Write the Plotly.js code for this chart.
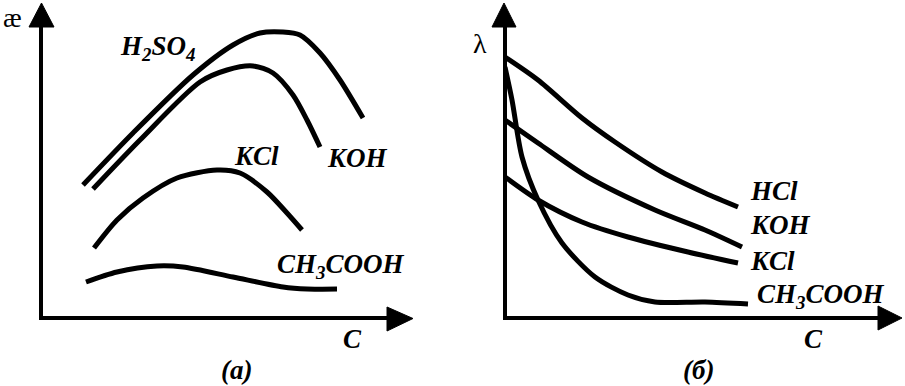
<!DOCTYPE html>
<html><head><meta charset="utf-8">
<script src="https://cdn.plot.ly/plotly-3.0.1.min.js"></script>
<style>html,body{margin:0;padding:0;background:#fff}#chart{width:905px;height:386px}</style>
</head><body><div id="chart"></div>
<script>
// Panel (a): conductivity æ vs concentration C (schematic units)
const a_H2SO4_x = [42, 92, 152, 192, 219, 242, 259, 279, 299, 322];
const a_H2SO4_y = [133, 185, 243, 273, 285, 286, 283, 265, 238, 200];
const a_KOH_x = [52, 99, 159, 186, 212, 232, 252, 266, 279];
const a_KOH_y = [129, 178, 236, 248, 252, 245, 223, 198, 171];
const a_KCl_x = [53, 76, 102, 136, 176, 199, 226, 246, 261];
const a_KCl_y = [70, 98, 120, 140, 148, 145, 126, 105, 88];
const a_CH3COOH_x = [45, 76, 116, 142, 192, 242, 266, 296];
const a_CH3COOH_y = [36, 46, 52, 51, 41, 31, 29, 29];
// Panel (б): equivalent conductivity λ vs C
const b_HCl_x = [0, 33, 77, 110, 157, 200, 233];
const b_HCl_y = [261, 238, 200, 176, 146, 125, 111];
const b_KOH_x = [0, 33, 83, 150, 200, 237];
const b_KOH_y = [198, 175, 141, 108, 88, 71];
const b_KCl_x = [0, 33, 77, 123, 183, 233];
const b_KCl_y = [141, 118, 96, 81, 66, 55];
const b_CH3COOH_x = [0, 7, 17, 33, 57, 90, 123, 150, 200, 243];
const b_CH3COOH_y = [251, 218, 161, 118, 75, 41, 23, 16, 16, 14];

const W = 905, H = 386;
const px = v => v / W, py = v => 1 - v / H;

function curve(x, y, xa, ya) {
  return {x, y, xaxis: xa, yaxis: ya, type: 'scatter', mode: 'lines',
    line: {color: '#000', width: 5, shape: 'spline', smoothing: 0.8},
    hoverinfo: 'skip', showlegend: false};
}
const data = [
  curve(a_H2SO4_x, a_H2SO4_y, 'x', 'y'),
  curve(a_KOH_x, a_KOH_y, 'x', 'y'),
  curve(a_KCl_x, a_KCl_y, 'x', 'y'),
  curve(a_CH3COOH_x, a_CH3COOH_y, 'x', 'y'),
  curve(b_HCl_x, b_HCl_y, 'x2', 'y2'),
  curve(b_KOH_x, b_KOH_y, 'x2', 'y2'),
  curve(b_KCl_x, b_KCl_y, 'x2', 'y2'),
  curve(b_CH3COOH_x, b_CH3COOH_y, 'x2', 'y2'),
];

const ax = {showgrid: false, zeroline: false, showline: false, showticklabels: false, ticks: '', fixedrange: true};

function seg(x0, y0, x1, y1) {
  return {type: 'line', xref: 'paper', yref: 'paper', x0: px(x0), y0: py(y0), x1: px(x1), y1: py(y1),
    line: {color: '#000', width: 4}};
}
function tri(p) {
  const d = 'M' + p.map(q => px(q[0]) + ',' + py(q[1])).join(' L') + ' Z';
  return {type: 'path', xref: 'paper', yref: 'paper', path: d, fillcolor: '#000', line: {color: '#000', width: 1}};
}
const shapes = [
  seg(41, 320, 41, 24), seg(39, 318, 390, 318),
  tri([[41.5, 3], [29, 27], [54, 27]]), tri([[413, 318.5], [387, 307], [387, 331]]),
  seg(505, 320, 505, 24), seg(503, 318, 880, 318),
  tri([[504, 3], [492, 27], [516, 27]]), tri([[902, 318], [878, 306], [878, 330]]),
];

function lf() { return {family: 'Liberation Serif', size: 27, color: '#000', weight: 'bold', style: 'italic'}; }
function rf() { return {family: 'Liberation Serif', size: 28, color: '#000'}; }
function lab(t, x, y, anchor, font) {
  return {text: t, xref: 'paper', yref: 'paper', x: px(x), y: py(y), xanchor: anchor || 'left', yanchor: 'middle',
    showarrow: false, font: font || lf()};
}
const annotations = [
  lab('H<sub>2</sub>SO<sub>4</sub>', 118, 48),
  lab('KOH', 325, 158),
  lab('KCl', 232, 156),
  lab('CH<sub>3</sub>COOH', 275, 266),
  lab('C', 352, 339, 'center'),
  lab('(a)', 236, 370, 'center'),
  lab('æ', 12, 18, 'center', rf()),
  lab('HCl', 748, 191),
  lab('KOH', 748, 225),
  lab('KCl', 748, 261),
  lab('CH<sub>3</sub>COOH', 755, 296),
  lab('C', 813, 339, 'center'),
  lab('(б)', 698, 370, 'center'),
  lab('λ', 480, 44, 'center', rf()),
];

const layout = {
  width: W, height: H, margin: {l: 0, r: 0, t: 0, b: 0},
  paper_bgcolor: '#fff', plot_bgcolor: 'rgba(0,0,0,0)', showlegend: false,
  font: {family: 'Liberation Serif'},
  xaxis: Object.assign({domain: [41 / W, 413 / W], range: [0, 372]}, ax),
  yaxis: Object.assign({domain: [(H - 318) / H, (H - 3) / H], range: [0, 315]}, ax),
  xaxis2: Object.assign({domain: [505 / W, 902 / W], range: [0, 397], anchor: 'y2'}, ax),
  yaxis2: Object.assign({domain: [(H - 318) / H, (H - 3) / H], range: [0, 315], anchor: 'x2'}, ax),
  shapes, annotations,
};
Plotly.newPlot('chart', data, layout, {displayModeBar: false, staticPlot: true});
</script></body></html>
